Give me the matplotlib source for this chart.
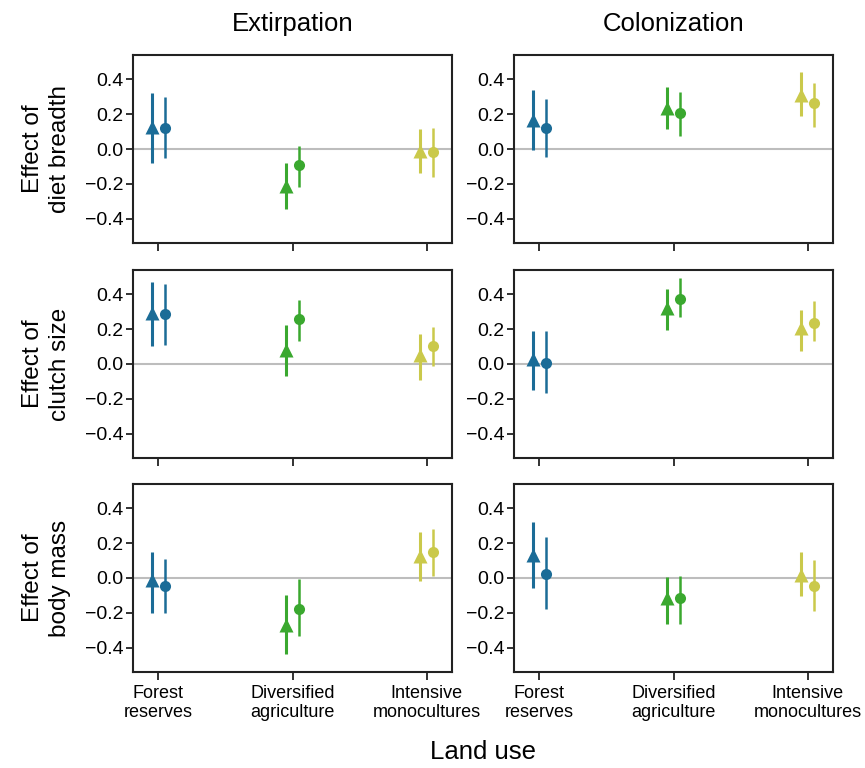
import numpy as np
import matplotlib
matplotlib.use("Agg")
import matplotlib.pyplot as plt

plt.rcParams['font.family'] = ['Liberation Sans', 'DejaVu Sans']

land_use = ["Forest\nreserves", "Diversified\nagriculture", "Intensive\nmonocultures"]
responses = ["Extirpation", "Colonization"]
traits = ["Effect of\ndiet breadth", "Effect of\nclutch size", "Effect of\nbody mass"]
colors = ["#1b6c97", "#3aa82f", "#cac94b"]

# estimates [trait][response][land use] for triangle and circle models
tri_est = [[[0.127, -0.215, -0.010], [0.169, 0.237, 0.313]],
           [[0.294, 0.079, 0.050], [0.031, 0.319, 0.204]],
           [[-0.014, -0.270, 0.125], [0.131, -0.114, 0.019]]]
tri_lo = [[[-0.081, -0.344, -0.140], [-0.004, 0.115, 0.192]],
          [[0.104, -0.069, -0.090], [-0.152, 0.198, 0.075]],
          [[-0.199, -0.438, -0.017], [-0.056, -0.264, -0.106]]]
tri_hi = [[[0.323, -0.081, 0.115], [0.337, 0.358, 0.444]],
          [[0.473, 0.223, 0.175], [0.188, 0.433, 0.308]],
          [[0.147, -0.100, 0.262], [0.324, 0.006, 0.149]]]

cir_est = [[[0.123, -0.094, -0.015], [0.119, 0.204, 0.265]],
           [[0.285, 0.256, 0.102], [0.008, 0.375, 0.238]],
           [[-0.044, -0.178, 0.149], [0.025, -0.114, -0.044]]]
cir_lo = [[[-0.052, -0.221, -0.158], [-0.048, 0.077, 0.127]],
          [[0.108, 0.135, -0.012], [-0.167, 0.271, 0.131]],
          [[-0.203, -0.334, 0.012], [-0.176, -0.264, -0.187]]]
cir_hi = [[[0.298, 0.019, 0.119], [0.288, 0.329, 0.381]],
          [[0.460, 0.365, 0.213], [0.188, 0.492, 0.363]],
          [[0.112, -0.008, 0.282], [0.234, 0.010, 0.102]]]

fig = plt.figure(figsize=(8.65, 7.68), dpi=100)

lefts = [133/865, 514/865]
width = 319/865
bottoms = [1-243/768, 1-458/768, 1-672/768]
height = 188/768

x = np.arange(1, 4)
for r in range(3):
    for c in range(2):
        ax = fig.add_axes([lefts[c], bottoms[r], width, height])
        ax.axhline(0, color="#bdbdbd", lw=1.5, zorder=0)
        for k in range(3):
            xt = x[k] - 0.05
            xc = x[k] + 0.05
            ax.plot([xt, xt], [tri_lo[r][c][k], tri_hi[r][c][k]], color=colors[k], lw=2.2, solid_capstyle='butt')
            ax.plot(xt, tri_est[r][c][k], marker='^', ms=10.5, color=colors[k], mec='none')
            ax.plot([xc, xc], [cir_lo[r][c][k], cir_hi[r][c][k]], color=colors[k], lw=1.8, solid_capstyle='butt')
            ax.plot(xc, cir_est[r][c][k], marker='o', ms=8, color=colors[k], mec='none')
        ax.set_xlim(0.81, 3.19)
        ax.set_ylim(-0.54, 0.54)
        ax.set_yticks([-0.4, -0.2, 0.0, 0.2, 0.4])
        ax.set_yticklabels(["\u22120.4", "\u22120.2", "0.0", "0.2", "0.4"])
        ax.set_xticks(x)
        if r == 2:
            ax.set_xticklabels(land_use, fontsize=13, linespacing=1.2)
        else:
            ax.set_xticklabels([])
        ax.tick_params(axis='y', labelsize=14, length=5, width=1.3, pad=2, color="#222222")
        ax.tick_params(axis='x', length=6, width=1.3, pad=3, color="#222222")
        for s in ax.spines.values():
            s.set_linewidth(1.5)
            s.set_color("#222222")
        if c == 0:
            ax.set_ylabel(traits[r], fontsize=17.5, linespacing=1.3, labelpad=10)
        if r == 0:
            ax.set_title(responses[c], fontsize=18.5, pad=17)

fig.text(0.558, 0.021, "Land use", fontsize=18.5, ha='center', va='center')

fig.savefig("out.png", dpi=100)
